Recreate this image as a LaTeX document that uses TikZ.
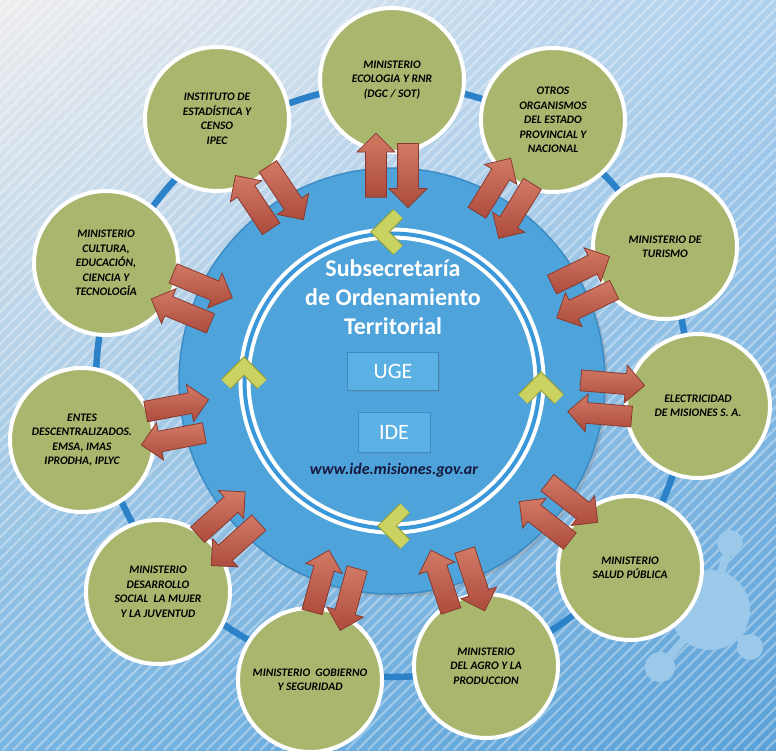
\documentclass[tikz,border=0pt]{standalone}
\usepackage{fontspec}
\setmainfont{Carlito}
\usetikzlibrary{calc,shapes.arrows,shadows,shadings}

\definecolor{bgA}{HTML}{EEEDEE}
\definecolor{bgB}{HTML}{ADD0EE}
\definecolor{bgC}{HTML}{78B5E2}
\definecolor{bgD}{HTML}{5AA1D8}
\definecolor{hubblue}{HTML}{4DA3DA}
\definecolor{hubedge}{HTML}{3A8BC6}
\definecolor{ringblue}{HTML}{3A98DA}
\definecolor{linkblue}{HTML}{2B82C8}
\definecolor{satgreen}{HTML}{A9B66E}
\definecolor{arrtop}{HTML}{D27A66}
\definecolor{arrbot}{HTML}{AC4B3D}
\definecolor{arredge}{HTML}{8A3A2E}
\definecolor{chevfill}{HTML}{CAD362}
\definecolor{chevedge}{HTML}{949E36}
\definecolor{boxblue}{HTML}{5BB1E3}
\definecolor{urlnavy}{HTML}{17183D}
\definecolor{molec}{HTML}{9CC8EA}

\tikzset{
  sat/.style={circle, draw=white, line width=4pt, fill=satgreen,
    minimum size=144pt, inner sep=0pt, align=center,
    font=\fontsize{11.5}{14.5}\selectfont\bfseries\itshape},
  blk/.style={single arrow, sloped, allow upside down, draw=arredge,
    line width=.8pt, top color=arrtop, bottom color=arrbot,
    minimum height=64pt, inner sep=0pt, inner ysep=10pt,
    single arrow head extend=8.5pt},
  chev/.style={draw=chevedge, line width=1pt, double=chevfill,
    double distance=12pt, line join=miter},
  box/.style={draw=hubedge, fill=boxblue, text=white, inner sep=0pt,
    font=\fontsize{22}{22}\selectfont,
    drop shadow={opacity=.3, shadow xshift=1pt, shadow yshift=-2pt}},
  stripe/.style={white, opacity=.32, line width=2.4pt}
}

\begin{document}
\begin{tikzpicture}[x=1pt, y=1pt]

  \newcommand\pair[1]{%
    \path ($(hub)!16pt!90:(#1)$) -- ($(#1)!16pt!-90:(hub)$)
      node[blk, pos=.7] (#1-out) {};
    \path ($(#1)!16pt!90:(hub)$) -- ($(hub)!16pt!-90:(#1)$)
      node[blk, pos=.3] (#1-in) {};
  }

  \useasboundingbox (0,0) rectangle (776,-750);

  % background
  \shade[upper left=bgA, upper right=bgB, lower left=bgC, lower right=bgD]
    (0,0) rectangle (776,-750);
  \begin{scope}
    \clip (0,0) rectangle (776,-750);
    \foreach \s in {-750,-739.25,...,780}
      \draw[stripe] (\s,-750) -- ++(750,750);
  \end{scope}

  % molecule, bottom right
  \draw[molec, line width=8pt] (730,-543) -- (710,-610) -- (750,-647)
    (710,-610) -- (660,-667);
  \fill[molec] (710,-610) circle (40pt) (730,-543) circle (13pt)
    (750,-647) circle (13pt) (660,-667) circle (15pt);

  \coordinate (c) at (392,-381);

  % ring through the satellites
  \draw[linkblue, line width=6.5pt] (c) circle (296pt);

  % hub
  \node[circle, draw=hubedge, line width=1.5pt, fill=hubblue,
    minimum size=426pt, inner sep=0pt,
    drop shadow={opacity=.3, shadow xshift=3pt, shadow yshift=-3pt}]
    (hub) at (c) {};
  \draw[white, line width=12pt] (hub.center) circle (147.5pt);
  \draw[ringblue, line width=4pt] (hub.center) circle (147.5pt);

  \node[text=white, align=center, font=\fontsize{24}{29}\selectfont\bfseries]
    (title) at (393,-297) {Subsecretaría\\de Ordenamiento\\Territorial};
  \node[box, minimum width=91pt, minimum height=38pt] (uge) at (393,-371) {UGE};
  \node[box, minimum width=72pt, minimum height=40pt] (ide) at (394,-432) {IDE};
  \node[text=urlnavy, font=\fontsize{16}{16}\selectfont\bfseries\itshape]
    (url) at (394,-470) {www.ide.misiones.gov.ar};

  % chevrons on the inner ring
  \draw[chev] (398,-214) -- (380,-232) -- (398,-250);
  \draw[chev] (226,-384) -- (244,-366) -- (262,-384);
  \draw[chev] (523,-399) -- (541,-381) -- (559,-399);
  \draw[chev] (405,-508) -- (387,-526) -- (405,-544);

  % satellites
  \node[sat] (eco) at (392,-80) {MINISTERIO\\ECOLOGIA Y RNR\\(DGC / SOT)};
  \node[sat] (otros) at (553,-120) {OTROS\\ORGANISMOS\\DEL ESTADO\\PROVINCIAL Y\\NACIONAL};
  \node[sat] (tur) at (665,-247) {MINISTERIO DE\\TURISMO};
  \node[sat] (ele) at (698,-406) {ELECTRICIDAD\\DE MISIONES S. A.};
  \node[sat] (salud) at (630,-568) {MINISTERIO\\SALUD PÚBLICA};
  \node[sat] (agro) at (486,-666) {MINISTERIO\\DEL AGRO Y LA\\PRODUCCION};
  \node[sat] (gob) at (310,-680) {MINISTERIO\ \ GOBIERNO\\Y SEGURIDAD};
  \node[sat] (des) at (158,-592) {MINISTERIO\\DESARROLLO\\SOCIAL\ \ LA MUJER\\Y LA JUVENTUD};
  \node[sat] (entes) at (82,-440) {ENTES\\DESCENTRALIZADOS.\\EMSA, IMAS\\IPRODHA, IPLYC};
  \node[sat] (cult) at (106,-263) {MINISTERIO\\CULTURA,\\EDUCACIÓN,\\CIENCIA Y\\TECNOLOGÍA};
  \node[sat] (ipec) at (217,-119) {INSTITUTO DE\\ESTADÍSTICA Y\\CENSO\\IPEC};

  % arrows both ways
  \pair{eco} \pair{otros} \pair{tur} \pair{ele} \pair{salud} \pair{agro}
  \pair{gob} \pair{des} \pair{entes} \pair{cult} \pair{ipec}

\end{tikzpicture}
\end{document}
